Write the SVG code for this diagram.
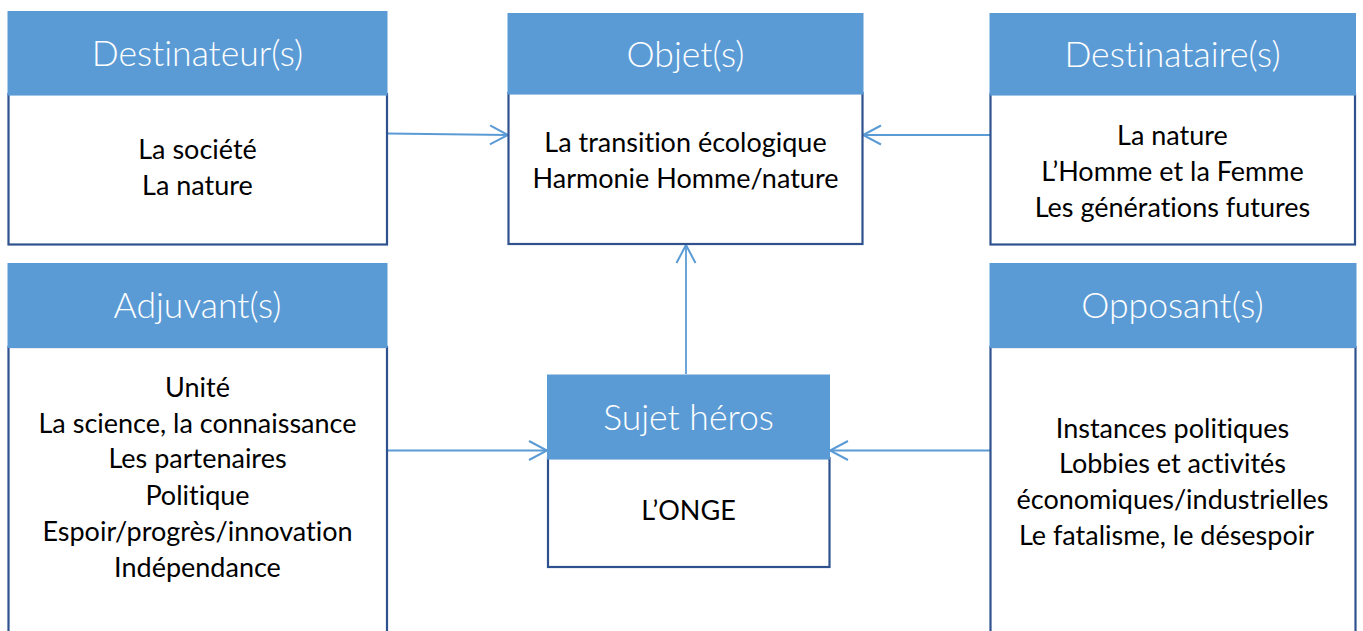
<svg xmlns="http://www.w3.org/2000/svg" width="1363" height="631" viewBox="0 0 1363 631">
<defs>
<style>
.body{fill:#FFFFFF;stroke:#2F528F;stroke-width:2.2}
.head{fill:#5B9BD5}
.ht{font-family:Lato,"Open Sans",sans-serif;font-weight:300;font-size:35.5px;fill:#FFFFFF;text-anchor:middle;font-variant-ligatures:none}
.bt{font-family:Lato,"Open Sans",sans-serif;font-size:27px;fill:#000000;text-anchor:middle;font-variant-ligatures:none}
.conn{fill:none;stroke:#5B9BD5;stroke-width:1.8}
</style>
<marker id="arr" markerUnits="userSpaceOnUse" markerWidth="24" markerHeight="24" viewBox="0 0 24 24" refX="21" refY="12" orient="auto">
<path d="M3,2.5 L21,12 L3,21.5" fill="none" stroke="#5B9BD5" stroke-width="2"/>
</marker>
</defs>
<rect width="1363" height="631" fill="#FFFFFF"/>
<g id="connectors">
<line class="conn" x1="387" y1="133.5" x2="508" y2="135" marker-end="url(#arr)"/>
<line class="conn" x1="990" y1="135" x2="863" y2="135" marker-end="url(#arr)"/>
<line class="conn" x1="686" y1="374" x2="686" y2="245" marker-end="url(#arr)"/>
<line class="conn" x1="387" y1="450.5" x2="547" y2="450.5" marker-end="url(#arr)"/>
<line class="conn" x1="990" y1="450.5" x2="830" y2="450.5" marker-end="url(#arr)"/>
</g>
<g id="destinateur">
<rect class="body" x="8.5" y="94" width="378.5" height="150.5"/>
<rect class="head" x="7.5" y="11" width="380" height="84.5"/>
<text class="ht" x="197.5" y="66">Destinateur(s)</text>
<text class="bt" x="197.5" y="159">La société</text>
<text class="bt" x="197.5" y="195">La nature</text>
</g>
<g id="objet">
<rect class="body" x="508.5" y="93" width="354" height="151"/>
<rect class="head" x="507.5" y="13" width="356" height="81.5"/>
<text class="ht" x="685.5" y="67">Objet(s)</text>
<text class="bt" x="685.5" y="152">La transition écologique</text>
<text class="bt" x="685.5" y="188">Harmonie Homme/nature</text>
</g>
<g id="destinataire">
<rect class="body" x="990.5" y="94" width="364.5" height="150.5"/>
<rect class="head" x="989.5" y="13" width="366.5" height="82.5"/>
<text class="ht" x="1172.5" y="67">Destinataire(s)</text>
<text class="bt" x="1172.5" y="145">La nature</text>
<text class="bt" x="1172.5" y="181">L’Homme et la Femme</text>
<text class="bt" x="1172.5" y="217">Les générations futures</text>
</g>
<g id="adjuvant">
<rect class="body" x="8.5" y="347" width="378.5" height="300"/>
<rect class="head" x="7.5" y="263" width="380" height="85"/>
<text class="ht" x="197.5" y="318">Adjuvant(s)</text>
<text class="bt" x="197.5" y="396.5">Unité</text>
<text class="bt" x="197.5" y="432.5">La science, la connaissance</text>
<text class="bt" x="197.5" y="468">Les partenaires</text>
<text class="bt" x="197.5" y="504.5">Politique</text>
<text class="bt" x="197.5" y="540.5">Espoir/progrès/innovation</text>
<text class="bt" x="197.5" y="576.5">Indépendance</text>
</g>
<g id="opposant">
<rect class="body" x="990.5" y="347" width="365" height="300"/>
<rect class="head" x="989.5" y="263" width="367" height="85"/>
<text class="ht" x="1172.5" y="318">Opposant(s)</text>
<text class="bt" x="1172.5" y="438">Instances politiques</text>
<text class="bt" x="1172.5" y="473">Lobbies et activités</text>
<text class="bt" x="1172.5" y="508.5">économiques/industrielles</text>
<text class="bt" x="1166.5" y="544.5">Le fatalisme, le désespoir</text>
</g>
<g id="sujet">
<rect class="body" x="548" y="458" width="281.5" height="109"/>
<rect class="head" x="547" y="374.5" width="283" height="85"/>
<text class="ht" x="688.5" y="430">Sujet héros</text>
<text class="bt" x="688.5" y="520">L’ONGE</text>
</g>
</svg>
